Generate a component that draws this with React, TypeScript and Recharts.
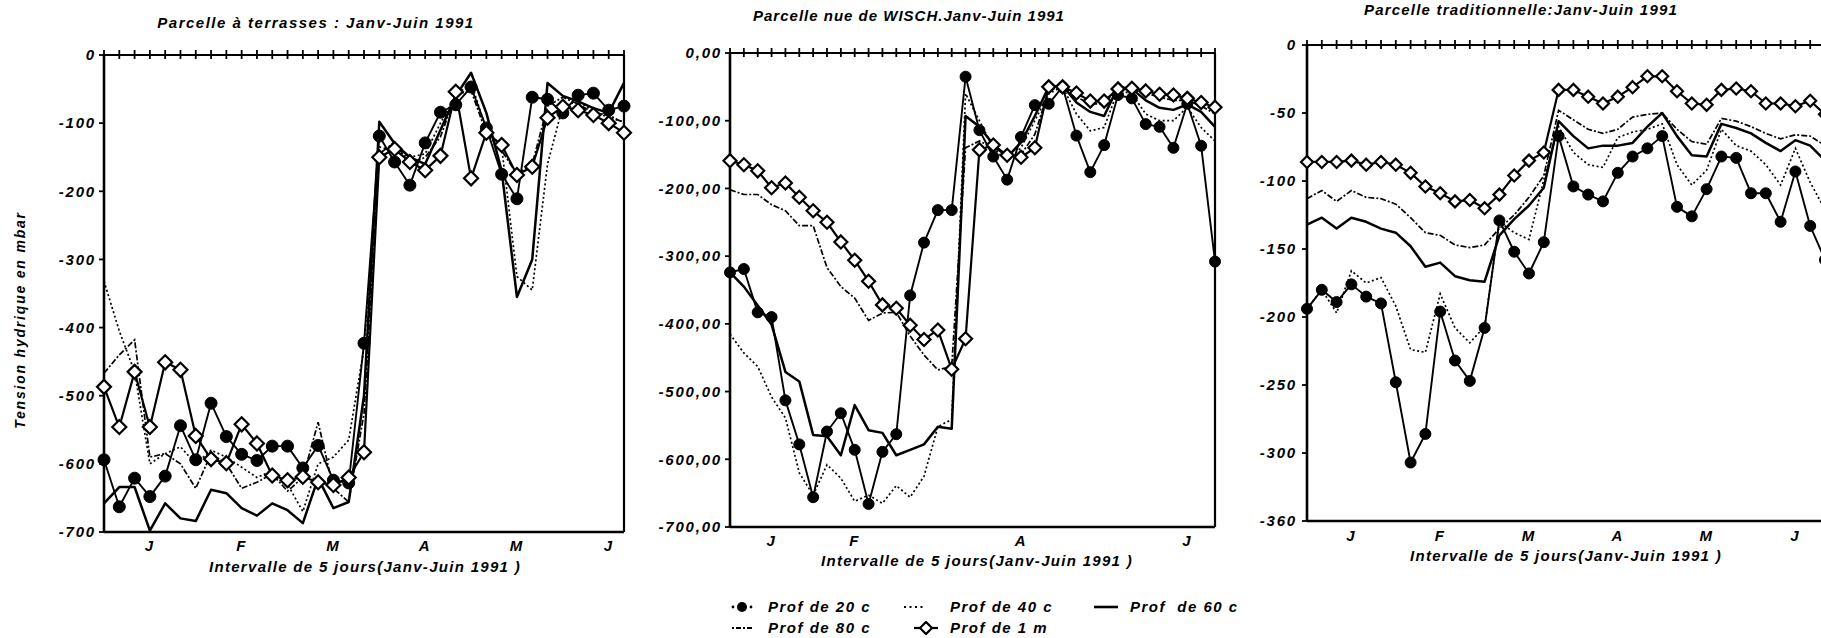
import React from "react";
import { LineChart, Line, XAxis, YAxis, ReferenceLine } from "recharts";

const FONT = '"Liberation Sans", Arial, sans-serif';

// --- Parcelle à terrasses (35 intervalles de 5 jours)
const terr20 = [-594, -663, -621, -648, -618, -544, -594, -511, -560, -586, -595, -574, -574, -606, -573, -624, -628, -423, -119, -157, -191, -129, -84, -73, -47, -107, -175, -211, -62, -65, -85, -59, -56, -81, -75];
const terr40 = [-332, -405, -465, -600, -585, -575, -600, -580, -590, -605, -620, -610, -630, -670, -600, -590, -565, -430, -135, -140, -150, -145, -100, -60, -40, -110, -135, -325, -345, -160, -75, -68, -82, -92, -98];
const terr60 = [-658, -634, -634, -698, -658, -680, -684, -638, -643, -665, -676, -658, -668, -687, -621, -665, -656, -500, -98, -130, -150, -160, -110, -60, -26, -85, -170, -355, -300, -41, -60, -68, -78, -85, -41];
const terr80 = [-467, -440, -418, -590, -585, -600, -636, -585, -600, -636, -627, -615, -640, -620, -539, -636, -656, -526, -145, -128, -160, -150, -120, -58, -52, -115, -140, -175, -160, -75, -62, -72, -85, -88, -100];
const terr100 = [-487, -546, -465, -546, -451, -462, -559, -593, -599, -542, -570, -617, -624, -619, -627, -631, -620, -583, -150, -138, -157, -169, -148, -54, -181, -114, -132, -176, -164, -92, -76, -81, -88, -100, -114];

// --- Parcelle nue de WISCH (36 intervalles)
const nue20 = [-324, -319, -383, -390, -513, -578, -656, -559, -532, -586, -666, -589, -563, -358, -280, -232, -232, -35, -114, -153, -187, -124, -77, -75, -50, -122, -176, -136, -62, -67, -105, -109, -140, -75, -137, -308];
const nue40 = [-415, -443, -463, -508, -539, -620, -653, -608, -628, -662, -653, -665, -639, -656, -625, -552, -541, -60, -100, -140, -160, -140, -100, -60, -50, -90, -115, -110, -55, -60, -90, -100, -100, -80, -110, -130];
const nue60 = [-324, -345, -373, -401, -471, -485, -564, -566, -594, -520, -557, -561, -594, -586, -578, -552, -555, -93, -109, -135, -154, -132, -93, -50, -48, -73, -87, -93, -50, -53, -70, -81, -84, -76, -87, -109];
const nue80 = [-202, -209, -209, -224, -233, -255, -255, -317, -345, -362, -395, -384, -383, -418, -446, -468, -463, -140, -130, -140, -150, -150, -120, -55, -50, -65, -75, -75, -52, -55, -60, -65, -70, -70, -78, -90];
const nue100 = [-159, -165, -174, -199, -192, -213, -233, -250, -279, -306, -337, -372, -377, -402, -423, -409, -467, -422, -143, -136, -151, -154, -140, -50, -50, -59, -71, -71, -53, -52, -56, -61, -62, -67, -73, -80];

// --- Parcelle traditionnelle (36 intervalles)
const trad20 = [-194, -180, -189, -176, -185, -190, -248, -307, -286, -196, -232, -247, -208, -129, -152, -168, -145, -67, -104, -110, -115, -94, -82, -76, -67, -119, -126, -106, -82, -83, -109, -109, -130, -93, -133, -158];
const trad40 = [-194, -180, -197, -166, -175, -171, -192, -224, -226, -183, -208, -219, -207, -130, -138, -143, -99, -60, -79, -88, -90, -68, -64, -62, -58, -88, -103, -92, -62, -74, -78, -88, -103, -76, -101, -121];
const trad60 = [-132, -127, -135, -127, -130, -135, -138, -148, -163, -160, -170, -173, -174, -140, -128, -118, -105, -56, -67, -76, -74, -74, -72, -60, -50, -67, -81, -82, -58, -61, -65, -72, -78, -70, -74, -85];
const trad80 = [-113, -107, -115, -107, -112, -113, -117, -127, -138, -140, -147, -149, -147, -135, -125, -112, -96, -48, -55, -62, -65, -62, -53, -51, -50, -62, -71, -73, -54, -56, -60, -65, -69, -66, -67, -74];
const trad100 = [-86, -86, -86, -85, -88, -86, -88, -94, -104, -109, -115, -114, -120, -110, -96, -85, -79, -33, -33, -38, -43, -38, -31, -23, -23, -34, -43, -44, -33, -32, -34, -43, -43, -45, -41, -51];

// axes
const monthTicksA = [3, 9, 15, 21, 27, 33];
const monthLabelsA = ["J", "F", "M", "A", "M", "J"];
const monthTicksB = [3, 9, 21, 33];
const monthLabelsB = ["J", "F", "A", "J"];

const yTicks700 = [0, -100, -200, -300, -400, -500, -600, -700];
const yLabelsTerr = ["0", "-100", "-200", "-300", "-400", "-500", "-600", "-700"];
const yLabelsNue = ["0,00", "-100,00", "-200,00", "-300,00", "-400,00", "-500,00", "-600,00", "-700,00"];
const yTicks350 = [0, -50, -100, -150, -200, -250, -300, -350];
const yLabelsTrad = ["0", "-50", "-100", "-150", "-200", "-250", "-300", "-360"];

const seriesNames = ["Prof de 20 c", "Prof de 40 c", "Prof  de 60 c", "Prof de 80 c", "Prof de 1 m"];
const xTitle = "Intervalle de 5 jours(Janv-Juin 1991 )";

function rows(a20: number[], a40: number[], a60: number[], a80: number[], a100: number[]) {
  return a20.map((v, i) => ({ i, p20: v, p40: a40[i], p60: a60[i], p80: a80[i], p100: a100[i] }));
}

const textStyle = { fill: "#000", fontSize: 15, fontWeight: 700, fontStyle: "italic", fontFamily: FONT, letterSpacing: 1.8 };

const CrossTick = (props: any) => {
  const { x, y } = props;
  return <line x1={x} x2={x} y1={y - 5} y2={y + 4} stroke="#000" strokeWidth={1.8} />;
};

function diamond(p: any, s: number) {
  const { cx, cy, index } = p;
  if (cx == null || cy == null) return <g key={index} />;
  return (
    <path
      key={index}
      d={`M${cx},${cy - s}L${cx + s},${cy}L${cx},${cy + s}L${cx - s},${cy}Z`}
      fill="#fff"
      stroke="#000"
      strokeWidth={2.2}
    />
  );
}

type PanelProps = {
  data: any[];
  n: number;
  cx: number;
  width: number;
  plotLeft: number;
  plotTop: number;
  plotRight: number;
  plotBottom: number;
  yTicks: number[];
  yLabels: string[];
  tickMargin: number;
  monthTicks: number[];
  monthLabels: string[];
  labelGap: number;
  dotR: number;
  dia: number;
};

function Panel(p: PanelProps) {
  const H = 600;
  const xH = 30;
  const topH = 1;
  const topTicks = p.data.map((d) => d.i);
  return (
    <div style={{ position: "absolute", left: p.cx, top: 0 }}>
      <LineChart
        width={p.width}
        height={H}
        data={p.data}
        margin={{ top: p.plotTop - topH, right: p.cx + p.width - p.plotRight, bottom: H - p.plotBottom - xH, left: 0 }}
      >
        <XAxis
          xAxisId="top"
          orientation="top"
          dataKey="i"
          type="number"
          domain={[0, p.n]}
          ticks={topTicks}
          interval={0}
          height={topH}
          tickSize={0}
          tickMargin={0}
          tickLine={false}
          tick={CrossTick}
          axisLine={{ stroke: "#000", strokeWidth: 2 }}
        />
        <XAxis
          xAxisId="bottom"
          dataKey="i"
          type="number"
          domain={[0, p.n]}
          ticks={p.monthTicks}
          interval={0}
          tickFormatter={(v: number) => p.monthLabels[p.monthTicks.indexOf(v)]}
          height={xH}
          tickSize={0}
          tickMargin={p.labelGap}
          tickLine={false}
          tick={textStyle}
          axisLine={{ stroke: "#000", strokeWidth: 2.6 }}
        />
        <YAxis
          type="number"
          domain={[p.yTicks[p.yTicks.length - 1], 0]}
          ticks={p.yTicks}
          interval={0}
          width={p.plotLeft - p.cx}
          tickFormatter={(v: number) => p.yLabels[p.yTicks.indexOf(v)]}
          tick={textStyle}
          tickSize={5}
          tickMargin={p.tickMargin}
          tickLine={{ stroke: "#000", strokeWidth: 1.8 }}
          axisLine={{ stroke: "#000", strokeWidth: 2.6 }}
        />
        <ReferenceLine xAxisId="bottom" x={p.n} stroke="#000" strokeWidth={2.2} />
        <Line xAxisId="bottom" type="linear" dataKey="p40" stroke="#000" strokeWidth={1.7} strokeDasharray="2 2.5" dot={false} activeDot={false} isAnimationActive={false} />
        <Line xAxisId="bottom" type="linear" dataKey="p80" stroke="#000" strokeWidth={1.7} strokeDasharray="6 2 2 2" dot={false} activeDot={false} isAnimationActive={false} />
        <Line xAxisId="bottom" type="linear" dataKey="p60" stroke="#000" strokeWidth={2.5} strokeLinejoin="round" dot={false} activeDot={false} isAnimationActive={false} />
        <Line xAxisId="bottom" type="linear" dataKey="p20" stroke="#000" strokeWidth={1.9} strokeLinejoin="round" dot={{ r: p.dotR, fill: "#000", stroke: "#000", strokeWidth: 1 }} activeDot={false} isAnimationActive={false} />
        <Line xAxisId="bottom" type="linear" dataKey="p100" stroke="#000" strokeWidth={2.2} strokeLinejoin="round" dot={(d: any) => diamond(d, p.dia)} activeDot={false} isAnimationActive={false} />
      </LineChart>
    </div>
  );
}

function Txt({ x, y, children, size = 15, rotate = 0, spacing = 1 }: any) {
  return (
    <div
      style={{
        position: "absolute",
        left: x,
        top: y,
        transform: `translate(-50%, -50%) rotate(${rotate}deg)`,
        whiteSpace: "pre",
        fontFamily: FONT,
        fontWeight: 700,
        fontStyle: "italic",
        fontSize: size,
        letterSpacing: spacing,
        color: "#000",
        lineHeight: 1,
      }}
    >
      {children}
    </div>
  );
}

function LegendIcon({ k }: { k: number }) {
  const w = 24;
  return (
    <svg width={w} height={14} style={{ display: "block" }}>
      {k === 0 && (
        <g>
          <circle cx={3} cy={7} r={1.4} fill="#000" />
          <circle cx={12} cy={7} r={5} fill="#000" />
          <circle cx={21} cy={7} r={1.4} fill="#000" />
        </g>
      )}
      {k === 1 && <line x1={2} x2={23} y1={7} y2={7} stroke="#000" strokeWidth={1.8} strokeDasharray="2 3.5" />}
      {k === 2 && <line x1={0} x2={24} y1={7} y2={7} stroke="#000" strokeWidth={2.6} />}
      {k === 3 && <line x1={2} x2={23} y1={7} y2={7} stroke="#000" strokeWidth={1.8} strokeDasharray="2 2 5 2" />}
      {k === 4 && (
        <g>
          <line x1={0} x2={24} y1={7} y2={7} stroke="#000" strokeWidth={2.2} />
          <path d="M12,1L18,7L12,13L6,7Z" fill="#fff" stroke="#000" strokeWidth={2.2} />
        </g>
      )}
    </svg>
  );
}

const legendPos = [
  { ix: 730, tx: 768, y: 607 },
  { ix: 902, tx: 950, y: 607 },
  { ix: 1094, tx: 1130, y: 607 },
  { ix: 730, tx: 768, y: 628 },
  { ix: 914, tx: 950, y: 628 },
];

export default function App() {
  const dTerr = rows(terr20, terr40, terr60, terr80, terr100);
  const dNue = rows(nue20, nue40, nue60, nue80, nue100);
  const dTrad = rows(trad20, trad40, trad60, trad80, trad100);
  return (
    <div style={{ position: "relative", width: 1821, height: 638, overflow: "hidden", background: "#fff" }}>
      <style>{`html,body{margin:0;padding:0;overflow:hidden;background:#fff}`}</style>
      <Panel data={dTerr} n={34} cx={0} width={640} plotLeft={104} plotTop={55} plotRight={624} plotBottom={532}
        yTicks={yTicks700} yLabels={yLabelsTerr} tickMargin={3} monthTicks={monthTicksA} monthLabels={monthLabelsA}
        labelGap={8} dotR={6} dia={7} />
      <Panel data={dNue} n={35} cx={640} width={590} plotLeft={730} plotTop={53} plotRight={1215} plotBottom={527}
        yTicks={yTicks700} yLabels={yLabelsNue} tickMargin={3} monthTicks={monthTicksB} monthLabels={monthLabelsB}
        labelGap={8} dotR={5.5} dia={6.5} />
      <Panel data={dTrad} n={35} cx={1230} width={620} plotLeft={1307} plotTop={45} plotRight={1825} plotBottom={521}
        yTicks={yTicks350} yLabels={yLabelsTrad} tickMargin={5} monthTicks={monthTicksA} monthLabels={monthLabelsA}
        labelGap={9} dotR={5.5} dia={6} />

      <Txt x={316} y={22} spacing={1.5}>Parcelle à terrasses : Janv-Juin 1991</Txt>
      <Txt x={909} y={15}>Parcelle nue de WISCH.Janv-Juin 1991</Txt>
      <Txt x={1521} y={9} spacing={1.2}>Parcelle traditionnelle:Janv-Juin 1991</Txt>

      <Txt x={365} y={566} spacing={1.3}>{xTitle}</Txt>
      <Txt x={977} y={560} spacing={1.3}>{xTitle}</Txt>
      <Txt x={1566} y={555} spacing={1.3}>{xTitle}</Txt>

      <Txt x={20} y={320} rotate={-90} size={14} spacing={1.8}>Tension hydrique en mbar</Txt>

      {seriesNames.map((name, k) => (
        <React.Fragment key={name}>
          <div style={{ position: "absolute", left: legendPos[k].ix, top: legendPos[k].y - 7 }}>
            <LegendIcon k={k} />
          </div>
          <div
            style={{
              position: "absolute",
              left: legendPos[k].tx,
              top: legendPos[k].y - 8,
              whiteSpace: "pre",
              fontFamily: FONT,
              fontWeight: 700,
              fontStyle: "italic",
              fontSize: 15,
              letterSpacing: 1.5,
              lineHeight: 1,
            }}
          >
            {name}
          </div>
        </React.Fragment>
      ))}
    </div>
  );
}
